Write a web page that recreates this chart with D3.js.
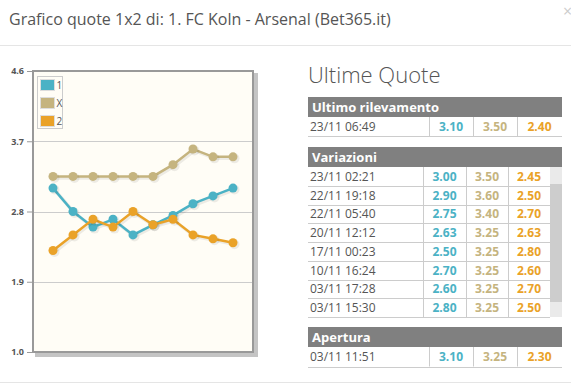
<!DOCTYPE html>
<html>
<head>
<meta charset="utf-8">
<script src="https://cdn.jsdelivr.net/npm/d3@7"></script>
<style>
  html, body { margin: 0; padding: 0; background: #fff; }
  svg { display: block; font-family: 'Open Sans', sans-serif; }
</style>
</head>
<body>
<svg id="chart" width="571" height="385"></svg>
<script>
const dates = ['03/11 11:51', '03/11 15:30', '03/11 17:28', '10/11 16:24', '17/11 00:23',
    '20/11 12:12', '22/11 05:40', '22/11 19:18', '23/11 02:21', '23/11 06:49'];
const odds1 = [3.10, 2.80, 2.60, 2.70, 2.50, 2.63, 2.75, 2.90, 3.00, 3.10];
const oddsX = [3.25, 3.25, 3.25, 3.25, 3.25, 3.25, 3.40, 3.60, 3.50, 3.50];
const odds2 = [2.30, 2.50, 2.70, 2.60, 2.80, 2.63, 2.70, 2.50, 2.45, 2.40];
const seriesNames = ['1', 'X', '2'];
const yTicks = [1.0, 1.9, 2.8, 3.7, 4.6];

const colors = ['#4bb2c5', '#c5b47f', '#eaa228'];
const series = [odds1, oddsX, odds2];

const svg = d3.select('#chart');

// title bar
svg.append('text')
    .attr('x', 9).attr('y', 25)
    .attr('font-size', 16).attr('fill', '#555')
    .text('Grafico quote 1x2 di: 1. FC Koln - Arsenal (Bet365.it)');
svg.append('text')
    .attr('x', 563).attr('y', 17)
    .attr('font-size', 16).attr('fill', '#ccc')
    .text('×');
svg.append('line')
    .attr('x1', 0).attr('x2', 571).attr('y1', 45.5).attr('y2', 45.5)
    .attr('stroke', '#e5e5e5');
svg.append('line')
    .attr('x1', 0).attr('x2', 571).attr('y1', 382.5).attr('y2', 382.5)
    .attr('stroke', '#e5e5e5');

// ---- chart ----
const plot = { left: 33, right: 253, top: 71, bottom: 352 };

const x = d3.scaleLinear().domain([-1, dates.length]).range([plot.left, plot.right]);
const y = d3.scaleLinear().domain([1.0, 4.6]).range([plot.bottom, plot.top]);

// shadow + background
svg.append('rect')
    .attr('x', plot.left + 2).attr('y', plot.top + 2)
    .attr('width', plot.right - plot.left + 3).attr('height', plot.bottom - plot.top + 3)
    .attr('fill', '#c4c4c4');
svg.append('rect')
    .attr('x', plot.left).attr('y', plot.top)
    .attr('width', plot.right - plot.left).attr('height', plot.bottom - plot.top)
    .attr('fill', '#fffdf6')
    .attr('stroke', '#999').attr('stroke-width', 2);

// grid lines
svg.append('g')
    .selectAll('line')
    .data(yTicks.slice(1, -1))
    .join('line')
    .attr('x1', plot.left + 1).attr('x2', plot.right - 1)
    .attr('y1', d => Math.round(y(d)) + 0.5).attr('y2', d => Math.round(y(d)) + 0.5)
    .attr('stroke', '#cccccc');

// y axis
const yAxis = svg.append('g')
    .attr('transform', `translate(${plot.left - 1},0)`)
    .call(d3.axisLeft(y).tickValues(yTicks).tickFormat(d3.format('.1f')).tickSize(5).tickPadding(3));
yAxis.select('.domain').remove();
yAxis.selectAll('line').attr('stroke', '#999');
yAxis.selectAll('text')
    .attr('font-family', "'Open Sans', sans-serif")
    .attr('font-size', 9).attr('font-weight', 'bold').attr('fill', '#555');

// series
const line = d3.line().x((d, i) => x(i)).y(d => y(d));

series.forEach((values, k) => {
    const g = svg.append('g');
    g.append('path')
        .datum(values)
        .attr('d', line)
        .attr('transform', 'translate(1.5,1.5)')
        .attr('fill', 'none')
        .attr('stroke', 'rgba(0,0,0,0.07)')
        .attr('stroke-width', 3.5);
    g.append('path')
        .datum(values)
        .attr('d', line)
        .attr('fill', 'none')
        .attr('stroke', colors[k])
        .attr('stroke-width', 2.5);
    g.selectAll('circle.sh')
        .data(values)
        .join('circle')
        .attr('class', 'sh')
        .attr('cx', (d, i) => x(i) + 1.5).attr('cy', d => y(d) + 1.5)
        .attr('r', 5).attr('fill', 'rgba(0,0,0,0.07)');
    g.selectAll('circle.pt')
        .data(values)
        .join('circle')
        .attr('class', 'pt')
        .attr('cx', (d, i) => x(i)).attr('cy', d => y(d))
        .attr('r', 4.5).attr('fill', colors[k]);
});

// legend
const legend = svg.append('g').attr('transform', 'translate(37,76)');
legend.append('rect')
    .attr('x', 0.5).attr('y', 0.5).attr('width', 25).attr('height', 52)
    .attr('fill', '#fffdf6').attr('stroke', '#cccccc');
seriesNames.forEach((name, k) => {
    legend.append('rect')
        .attr('x', 3.5).attr('y', 3.5 + k * 18).attr('width', 14).attr('height', 11)
        .attr('fill', colors[k]).attr('stroke', '#ddd');
    legend.append('text')
        .attr('x', 19.5).attr('y', 13 + k * 18)
        .attr('font-size', 10).attr('fill', '#555')
        .text(name);
});

// ---- odds table ----
svg.append('text')
    .attr('x', 308).attr('y', 83)
    .attr('font-size', 22).attr('font-weight', 300).attr('fill', '#555')
    .text('Ultime Quote');

const fmt = d3.format('.2f');

const drawSection = (title, top, rows, cols, rowH) => {
    const g = svg.append('g');
    g.append('rect')
        .attr('x', 308).attr('y', top).attr('width', 254).attr('height', 20)
        .attr('fill', '#808080');
    g.append('text')
        .attr('x', 312).attr('y', top + 15)
        .attr('font-size', 13).attr('font-weight', 'bold').attr('fill', '#fff')
        .text(title);
    const y0 = top + 20;
    rows.forEach((idx, r) => {
        const ry = y0 + r * rowH;
        g.append('line')
            .attr('x1', 308).attr('x2', cols[4])
            .attr('y1', Math.round(ry + rowH) + 0.5).attr('y2', Math.round(ry + rowH) + 0.5)
            .attr('stroke', '#cccccc');
        g.append('text')
            .attr('x', 310).attr('y', ry + rowH / 2 + 4.5)
            .attr('font-size', 12).attr('fill', '#555')
            .text(dates[idx]);
        series.forEach((values, k) => {
            g.append('text')
                .attr('x', (cols[k + 1] + cols[k + 2]) / 2).attr('y', ry + rowH / 2 + 4.5)
                .attr('text-anchor', 'middle')
                .attr('font-size', 12).attr('font-weight', 'bold').attr('fill', colors[k])
                .text(fmt(values[idx]));
        });
    });
    [cols[1], cols[2], cols[3]].forEach(cx => {
        g.append('line')
            .attr('x1', cx + 0.5).attr('x2', cx + 0.5)
            .attr('y1', y0).attr('y2', y0 + rows.length * rowH)
            .attr('stroke', '#cccccc');
    });
};

const last = dates.length - 1;
drawSection('Ultimo rilevamento', 97, [last], [308, 429, 473, 517, 562], 19);

// scrollbar of the variations list
svg.append('rect')
    .attr('x', 550).attr('y', 167).attr('width', 12).attr('height', 150)
    .attr('fill', '#eaeaea');
svg.append('rect')
    .attr('x', 550).attr('y', 184).attr('width', 12).attr('height', 118)
    .attr('fill', '#cdcdcd');

drawSection('Variazioni', 147, d3.range(last - 1, 0, -1), [308, 423, 466, 508, 550], 18.75);
drawSection('Apertura', 327, [0], [308, 429, 473, 517, 562], 19.5);
</script>
</body>
</html>
